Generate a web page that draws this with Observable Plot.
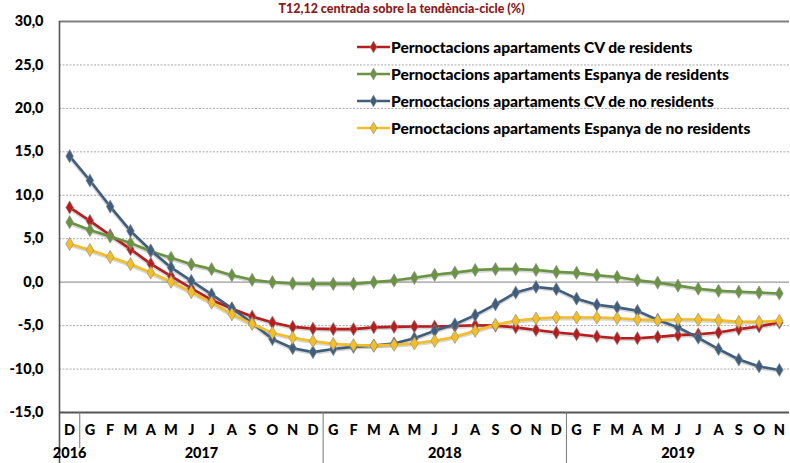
<!DOCTYPE html>
<html><head><meta charset="utf-8">
<script src="https://cdn.jsdelivr.net/npm/d3@7"></script>
<script src="https://cdn.jsdelivr.net/npm/@observablehq/plot@0.6"></script>
<style>
body{margin:0;background:#fff;font-family:Lato,"Open Sans",sans-serif;}
#wrap{position:relative;width:790px;height:463px;overflow:hidden;}
#legend{position:absolute;left:357px;top:33px;font-weight:900;font-size:15.6px;color:#000;letter-spacing:-0.05px;}
.row{height:27px;display:flex;align-items:center;white-space:nowrap;}
.row svg{margin-right:1px;}
</style></head>
<body><div id="wrap"><div id="chart"></div><div id="legend"></div></div>
<script>
const title = "T12,12 centrada sobre la tendència-cicle (%)";
const months = ["D","G","F","M","A","M","J","J","A","S","O","N","D","G","F","M","A","M","J","J","A","S","O","N","D","G","F","M","A","M","J","J","A","S","O","N"];
const yearLabels = ["2016","2017","2018","2019"];
const yearCounts = [1,12,12,11];
const yTicks = [-15,-10,-5,0,5,10,15,20,25,30];
const series = [
  "Pernoctacions apartaments CV de residents",
  "Pernoctacions apartaments Espanya de residents",
  "Pernoctacions apartaments CV de no residents",
  "Pernoctacions apartaments Espanya de no residents"
];
const colors = ["#b81c1c","#6a9540","#3f5d7c","#f5be25"];
const cvRes = [8.6,7.05,5.4,3.8,2.1,0.7,-0.7,-2.05,-3.05,-3.95,-4.65,-5.15,-5.35,-5.4,-5.4,-5.2,-5.15,-5.1,-5.1,-5.05,-4.95,-5.0,-5.2,-5.5,-5.8,-6.0,-6.25,-6.45,-6.45,-6.3,-6.1,-6.0,-5.8,-5.4,-5.1,-4.65];
const espRes = [6.9,6.0,5.25,4.5,3.55,2.8,2.05,1.5,0.8,0.27,0.0,-0.15,-0.2,-0.2,-0.2,0.0,0.2,0.5,0.85,1.1,1.4,1.5,1.5,1.4,1.18,1.07,0.8,0.6,0.22,-0.05,-0.4,-0.75,-1.0,-1.1,-1.2,-1.3];
const cvNoRes = [14.5,11.7,8.7,5.9,3.65,1.7,0.15,-1.4,-3.0,-4.7,-6.55,-7.6,-8.05,-7.7,-7.45,-7.3,-7.05,-6.45,-5.6,-4.85,-3.8,-2.55,-1.2,-0.55,-0.8,-1.9,-2.6,-2.9,-3.3,-4.35,-5.2,-6.4,-7.7,-8.9,-9.7,-10.1];
const espNoRes = [4.4,3.7,2.9,2.07,1.1,0.05,-1.15,-2.35,-3.7,-4.8,-5.85,-6.4,-6.8,-7.1,-7.25,-7.3,-7.2,-7.05,-6.75,-6.3,-5.6,-4.9,-4.45,-4.2,-4.07,-4.07,-4.07,-4.15,-4.3,-4.4,-4.3,-4.3,-4.4,-4.57,-4.57,-4.45];
const values = [cvRes, espRes, cvNoRes, espNoRes];

const rows = series.flatMap((s,k) => values[k].map((v,i) => ({series:s, i, v})));
const idx = d3.range(months.length);
let start = 0;
const years = yearLabels.map((label,k) => {
  const a = start, b = start + yearCounts[k] - 1; start += yearCounts[k];
  return {label, mid:(a+b)/2, end:b+0.5};
});
const outerDividers = years.slice(1,-1).map(d => d.end);
const firstDivider = [years[0].end];
const fmt = d => d.toFixed(1).replace(".", ",");

const chart = Plot.plot({
  width:790, height:463,
  marginLeft:59, marginRight:1, marginTop:21, marginBottom:51,
  style:{fontFamily:"Lato, 'Open Sans', sans-serif", fontSize:"14.5px", fontWeight:"900", color:"#000", background:"#fff"},
  x:{type:"linear", domain:[-0.5, months.length-0.5], axis:null},
  y:{domain:[-15,30], ticks:yTicks, tickFormat:fmt, tickSize:0, tickPadding:16, label:null},
  color:{domain:series, range:colors},
  marks:[
    Plot.ruleY(yTicks.filter(d => d>-15 && d<30 && d!==0), {stroke:"#a8a8a8", strokeWidth:1, strokeDasharray:"2,1.5"}),
    Plot.ruleY([0], {stroke:"#9a9a9a", strokeWidth:1.4}),
    Plot.ruleY([30], {stroke:"#808080", strokeWidth:1.8}),
    Plot.ruleY([-15], {stroke:"#555", strokeWidth:1.8}),
    Plot.ruleX([-0.5], {stroke:"#555", strokeWidth:1.6, insetBottom:-51}),
    Plot.ruleX(firstDivider, {y1:-15, y2:-15, stroke:"#777", strokeWidth:1, insetBottom:-36}),
    Plot.ruleX(outerDividers, {y1:-15, y2:-15, stroke:"#777", strokeWidth:1, insetBottom:-51}),
    Plot.line(rows, {x:"i", y:"v", z:"series", stroke:"#8a8a8a", strokeWidth:4.2, strokeOpacity:0.35, dy:0.8}),
    Plot.line(rows, {x:"i", y:"v", stroke:"series", strokeWidth:2.6}),
    Plot.dot(rows, {x:"i", y:"v", fill:"series", symbol:"diamond", r:4, stroke:"#8a8a8a", strokeWidth:0.6}),
    Plot.text(idx, {x:d => d, text:d => months[d], frameAnchor:"bottom", lineAnchor:"middle", dy:18, fontSize:14.5}),
    Plot.text(years, {x:"mid", text:"label", frameAnchor:"bottom", lineAnchor:"middle", dy:41, fontSize:14.5}),
    Plot.text([title], {frameAnchor:"top", lineAnchor:"top", dy:-17, dx:-23, fill:"#8b1a1a", fontSize:12.5})
  ]
});
document.getElementById("chart").appendChild(chart);

const legend = d3.select("#legend");
series.forEach((s,k) => {
  const row = legend.append("div").attr("class","row");
  const svg = row.append("svg").attr("width",33).attr("height",12);
  svg.append("line").attr("x1",0).attr("x2",33).attr("y1",6).attr("y2",6).attr("stroke",colors[k]).attr("stroke-width",2.6);
  svg.append("path").attr("d", d3.symbol(d3.symbolDiamond, 40)()).attr("transform","translate(16.5,6)").attr("fill",colors[k]).attr("stroke","#8a8a8a").attr("stroke-width",0.6);
  row.append("span").text(s);
});
</script></body></html>
